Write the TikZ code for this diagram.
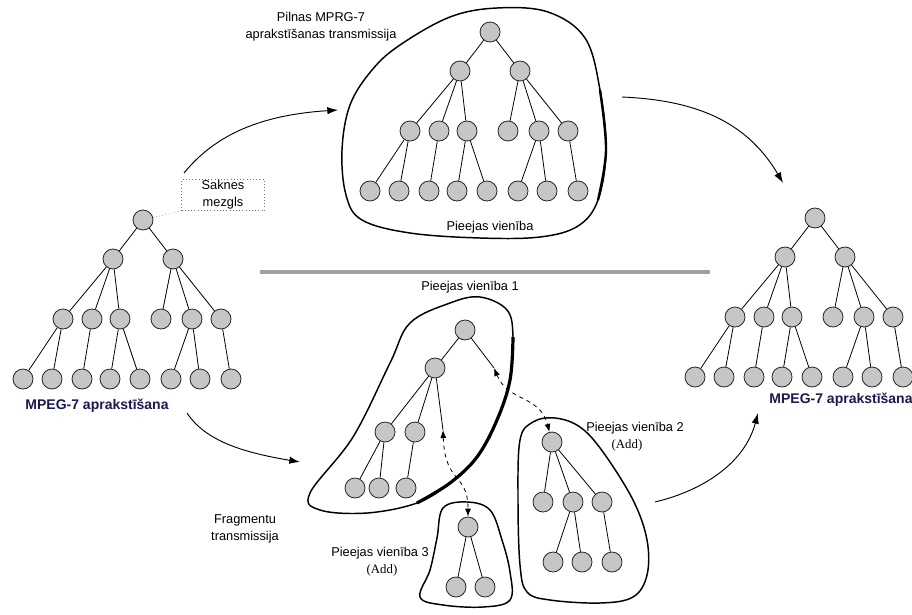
\documentclass[tikz,border=0pt]{standalone}
\usepackage{fontspec}
\setmainfont{Liberation Sans}
\newfontfamily\addfont{Liberation Serif}
\usetikzlibrary{arrows.meta}

\definecolor{navytext}{RGB}{25,25,85}
\definecolor{unitgray}{RGB}{198,198,198}

\tikzset{
  unit/.style={circle, draw=black!85, fill=unitgray, line width=0.6pt,
               minimum size=15pt, inner sep=0pt},
  link/.style={line width=0.6pt},
  blob/.style={line width=1.1pt, line join=round},
  flow/.style={-{Latex[length=8pt,width=5.5pt]}, line width=0.7pt},
  fetch/.style={{Latex[length=6pt,width=4.5pt]}-{Latex[length=6pt,width=4.5pt]},
                dashed, line width=0.6pt},
  lbl/.style={font=\fontsize{9.6}{12.5}\selectfont, align=center, inner sep=1pt},
  addnote/.style={font=\addfont\fontsize{9.6}{12}\selectfont, inner sep=1pt},
  title/.style={font=\fontsize{10.5}{12}\selectfont\bfseries, text=navytext, inner sep=1pt}
}

% full description tree: prefix, x and y of the root
\newcommand{\mpegtree}[3]{%
  \node[unit] (#1r) at (#2,#3) {};
  \node[unit] (#1a) at ({#2-30},{#3+39}) {};
  \node[unit] (#1b) at ({#2+30},{#3+39}) {};
  \foreach \dx [count=\i] in {-80,-51,-23,18,49,78}
    \node[unit] (#1c\i) at ({#2+(\dx)},{#3+99}) {};
  \foreach \dx [count=\i] in {-120,-91,-61,-33,-3,28,57,88}
    \node[unit] (#1d\i) at ({#2+(\dx)},{#3+159}) {};
  \foreach \p/\c in {r/a,r/b,a/c1,a/c2,a/c3,b/c4,b/c5,b/c6,
                     c1/d1,c1/d2,c2/d3,c3/d4,c3/d5,c5/d6,c5/d7,c6/d8}
    \draw[link] (#1\p) -- (#1\c);
}

\begin{document}
\begin{tikzpicture}[x=0.75pt, y=-0.75pt]
  \useasboundingbox (0,0) rectangle (912,614);

  % the three complete trees
  \mpegtree{l}{143}{220}
  \mpegtree{t}{490}{32}
  \mpegtree{s}{815}{218}

  % access unit round the transmitted tree
  \draw[blob] plot[smooth cycle, tension=0.6] coordinates {
    (342,150) (350,105) (372,70) (400,45) (450,17) (497,8) (548,12) (585,38)
    (600,90) (606,150) (598,200) (578,226) (540,237) (480,238) (410,233)
    (362,220) (346,195)};
  \draw[line width=1.8pt] plot[smooth, tension=0.6] coordinates {
    (600,90) (606,150) (598,200)};
  \node[lbl] (unittop) at (490,227) {Pieejas vienība};
  \node[lbl] (fulltx) at (321,27) {Pilnas MPRG-7\\aprakstīšanas transmissija};

  \node[title] (srcname) at (97,406) {MPEG-7 aprakstīšana};
  \node[title] (dstname) at (841,400) {MPEG-7 aprakstīšana};

  % root note
  \node[lbl, draw=black!55, dotted, minimum width=62pt, minimum height=22pt]
    (saknes) at (223,195) {Saknes\\mezgls};
  \draw[dotted, black!60] (lr) -- (saknes.south west);

  \draw[line width=3pt, gray!75] (260,272) -- (710,272);

  % fragment 1
  \node[unit] (f1r) at (465,330) {};
  \node[unit] (f1a) at (435,368) {};
  \node[unit] (f1c1) at (385,432) {};
  \node[unit] (f1c2) at (415,432) {};
  \node[unit] (f1d1) at (355,488) {};
  \node[unit] (f1d2) at (379,488) {};
  \node[unit] (f1d3) at (406,488) {};
  \coordinate (p2) at (494,368);
  \coordinate (p3) at (443,430);
  \foreach \p/\c in {r/a,a/c1,a/c2,c1/d1,c1/d2,c2/d3}
    \draw[link] (f1\p) -- (f1\c);
  \draw[link] (f1r) -- (p2);
  \draw[link] (f1a) -- (p3);
  \draw[blob] plot[smooth cycle, tension=0.6] coordinates {
    (450,303) (480,297) (507,310) (513,337) (510,380) (497,420) (477,457)
    (450,483) (417,503) (367,513) (320,510) (310,493) (353,437) (390,363)
    (410,323)};
  \draw[line width=2.4pt] plot[smooth, tension=0.6] coordinates {
    (513,337) (510,380) (497,420) (477,457) (450,483) (417,503)};
  \node[lbl] (unit1) at (470,287) {Pieejas vienība 1};

  % fragment 2
  \node[unit] (f2r) at (552,442) {};
  \node[unit] (f2c1) at (543,502) {};
  \node[unit] (f2c2) at (573,502) {};
  \node[unit] (f2c3) at (602,502) {};
  \node[unit] (f2d1) at (553,562) {};
  \node[unit] (f2d2) at (582,562) {};
  \node[unit] (f2d3) at (612,562) {};
  \foreach \p/\c in {r/c1,r/c2,r/c3,c2/d1,c2/d2,c3/d3}
    \draw[link] (f2\p) -- (f2\c);
  \draw[blob] plot[smooth cycle, tension=0.6] coordinates {
    (520,440) (533,422) (555,418) (580,427) (603,452) (633,500) (647,540)
    (647,575) (633,597) (600,603) (550,600) (527,592) (520,565) (518,500)};
  \node[lbl] (unit2) at (635,428) {Pieejas vienība 2};
  \node[addnote] (add2) at (627,445) {(Add)};

  % fragment 3
  \node[unit] (f3r) at (468,527) {};
  \node[unit] (f3c1) at (456,587) {};
  \node[unit] (f3c2) at (485,587) {};
  \draw[link] (f3r) -- (f3c1);
  \draw[link] (f3r) -- (f3c2);
  \draw[blob] plot[smooth cycle, tension=0.6] coordinates {
    (443,508) (467,502) (490,510) (502,540) (510,572) (510,600) (483,607)
    (443,605) (420,597) (430,570) (437,538)};
  \node[lbl] (unit3) at (380,553) {Pieejas vienība 3};
  \node[addnote] (add3) at (382,570) {(Add)};

  % fragments are fetched on demand
  \draw[fetch] (p2) .. controls (508,402) and (540,395) .. (f2r);
  \draw[fetch] (p3) .. controls (445,485) and (468,472) .. (f3r);

  % transmission arrows
  \coordinate (sendfull) at (184,173);
  \coordinate (recvfull) at (338,110);
  \coordinate (outfull) at (622,97);
  \coordinate (intree) at (783,183);
  \coordinate (sendfrag) at (187,413);
  \coordinate (recvfrag) at (300,462);
  \coordinate (outfrag) at (655,502);
  \coordinate (infrag) at (758,413);
  \draw[flow] (sendfull) .. controls (215,135) and (260,115) .. (recvfull);
  \draw[flow] (outfull) .. controls (690,100) and (745,118) .. (intree);
  \draw[flow] (sendfrag) .. controls (205,440) and (240,452) .. (recvfrag);
  \draw[flow] (outfrag) .. controls (705,490) and (745,462) .. (infrag);
  \node[lbl] (fragtx) at (245,529) {Fragmentu\\transmissija};
\end{tikzpicture}
\end{document}
